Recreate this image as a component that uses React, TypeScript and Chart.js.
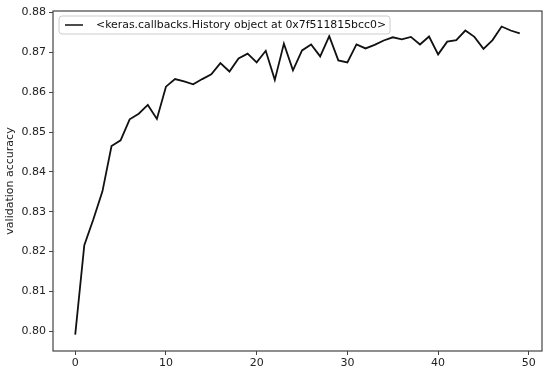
import { useEffect, useRef } from "react";
import { Chart, registerables } from "chart.js";

Chart.register(...registerables);

const epochs = [
  0, 1, 2, 3, 4, 5, 6, 7, 8, 9, 10, 11, 12, 13, 14, 15, 16, 17, 18, 19, 20, 21, 22, 23, 24,
  25, 26, 27, 28, 29, 30, 31, 32, 33, 34, 35, 36, 37, 38, 39, 40, 41, 42, 43, 44, 45, 46, 47, 48, 49,
];
const valAccuracy = [
  0.7991, 0.8216, 0.8281, 0.8351, 0.8465, 0.8479, 0.8532, 0.8546, 0.8568, 0.8533,
  0.8614, 0.8633, 0.8627, 0.862, 0.8633, 0.8645, 0.8673, 0.8652, 0.8685, 0.8697,
  0.8675, 0.8704, 0.8631, 0.8722, 0.8655, 0.8705, 0.872, 0.869, 0.8741, 0.868,
  0.8675, 0.872, 0.871, 0.8719, 0.873, 0.8738, 0.8733, 0.8739, 0.872, 0.874,
  0.8695, 0.8727, 0.8731, 0.8755, 0.8739, 0.8709, 0.8731, 0.8765, 0.8755, 0.8748,
];
const xTickValues = [0, 10, 20, 30, 40, 50];
const yTickValues = [0.8, 0.81, 0.82, 0.83, 0.84, 0.85, 0.86, 0.87, 0.88];
const seriesLabel = "<keras.callbacks.History object at 0x7f511815bcc0>";
const yAxisTitle = "validation accuracy";

const FONT = "'DejaVu Sans', sans-serif";

const framePlugin = {
  id: "frame",
  afterDatasetsDraw(chart: any) {
    const { ctx, chartArea } = chart;
    const { left, top, right, bottom } = chartArea;
    ctx.save();
    ctx.strokeStyle = "#444";
    ctx.lineWidth = 1.2;
    ctx.strokeRect(left, top, right - left, bottom - top);
    ctx.restore();
  },
};

const legendPlugin = {
  id: "boxLegend",
  afterDraw(chart: any) {
    const { ctx, chartArea } = chart;
    const ds = chart.data.datasets[0];
    const x = chartArea.left + 6;
    const y = chartArea.top + 5;
    ctx.save();
    ctx.font = `10.9px ${FONT}`;
    const tw = ctx.measureText(ds.label).width;
    const w = 37 + tw + 4;
    const h = 18;
    const r = 3;
    ctx.beginPath();
    ctx.moveTo(x + r, y);
    ctx.lineTo(x + w - r, y);
    ctx.quadraticCurveTo(x + w, y, x + w, y + r);
    ctx.lineTo(x + w, y + h - r);
    ctx.quadraticCurveTo(x + w, y + h, x + w - r, y + h);
    ctx.lineTo(x + r, y + h);
    ctx.quadraticCurveTo(x, y + h, x, y + h - r);
    ctx.lineTo(x, y + r);
    ctx.quadraticCurveTo(x, y, x + r, y);
    ctx.closePath();
    ctx.fillStyle = "rgba(255,255,255,0.85)";
    ctx.fill();
    ctx.strokeStyle = "#cccccc";
    ctx.lineWidth = 1;
    ctx.stroke();
    ctx.beginPath();
    ctx.moveTo(x + 6, y + h / 2);
    ctx.lineTo(x + 24, y + h / 2);
    ctx.strokeStyle = ds.borderColor;
    ctx.lineWidth = 1.5;
    ctx.stroke();
    ctx.fillStyle = "#111";
    ctx.textBaseline = "middle";
    ctx.textAlign = "left";
    ctx.fillText(ds.label, x + 37, y + h / 2 + 0.5);
    ctx.restore();
  },
};

export default function App() {
  const canvasRef = useRef<HTMLCanvasElement | null>(null);

  useEffect(() => {
    document.body.style.margin = "0";
    const canvas = canvasRef.current;
    if (!canvas) return;
    const chart = new Chart(canvas, {
      type: "line",
      data: {
        datasets: [
          {
            label: seriesLabel,
            data: epochs.map((e, i) => ({ x: e, y: valAccuracy[i] })),
            borderColor: "#111111",
            borderWidth: 1.8,
            pointRadius: 0,
            tension: 0,
            fill: false,
          },
        ],
      },
      options: {
        animation: false,
        responsive: false,
        maintainAspectRatio: false,
        layout: { padding: { top: 11, right: 8, left: 0, bottom: 0 } },
        plugins: {
          legend: { display: false },
          tooltip: { enabled: false },
        },
        scales: {
          x: {
            type: "linear",
            min: -2.45,
            max: 51.45,
            afterBuildTicks: (axis: any) => {
              axis.ticks = xTickValues.map((v) => ({ value: v }));
            },
            afterFit: (axis: any) => {
              axis.height = 22;
            },
            grid: {
              display: true,
              drawOnChartArea: false,
              drawTicks: true,
              tickLength: 4,
              tickColor: "#444",
            },
            border: { display: false },
            ticks: {
              color: "#222",
              font: { family: FONT, size: 11 },
              padding: 2,
              maxRotation: 0,
              callback: (v: any) => String(v),
            },
          },
          y: {
            type: "linear",
            min: 0.795,
            max: 0.8804,
            afterBuildTicks: (axis: any) => {
              axis.ticks = yTickValues.map((v) => ({ value: v }));
            },
            afterFit: (axis: any) => {
              axis.width = 53;
            },
            grid: {
              display: true,
              drawOnChartArea: false,
              drawTicks: true,
              tickLength: 4,
              tickColor: "#444",
            },
            border: { display: false },
            ticks: {
              color: "#222",
              font: { family: FONT, size: 11 },
              padding: 3,
              callback: (v: any) => Number(v).toFixed(2),
            },
            title: {
              display: true,
              text: yAxisTitle,
              color: "#222",
              font: { family: FONT, size: 11 },
              padding: { top: 4, bottom: 2 },
            },
          },
        },
      },
      plugins: [framePlugin, legendPlugin],
    });
    return () => chart.destroy();
  }, []);

  return (
    <div style={{ width: 550, height: 373 }}>
      <canvas ref={canvasRef} width={550} height={373} style={{ display: "block" }} />
    </div>
  );
}
